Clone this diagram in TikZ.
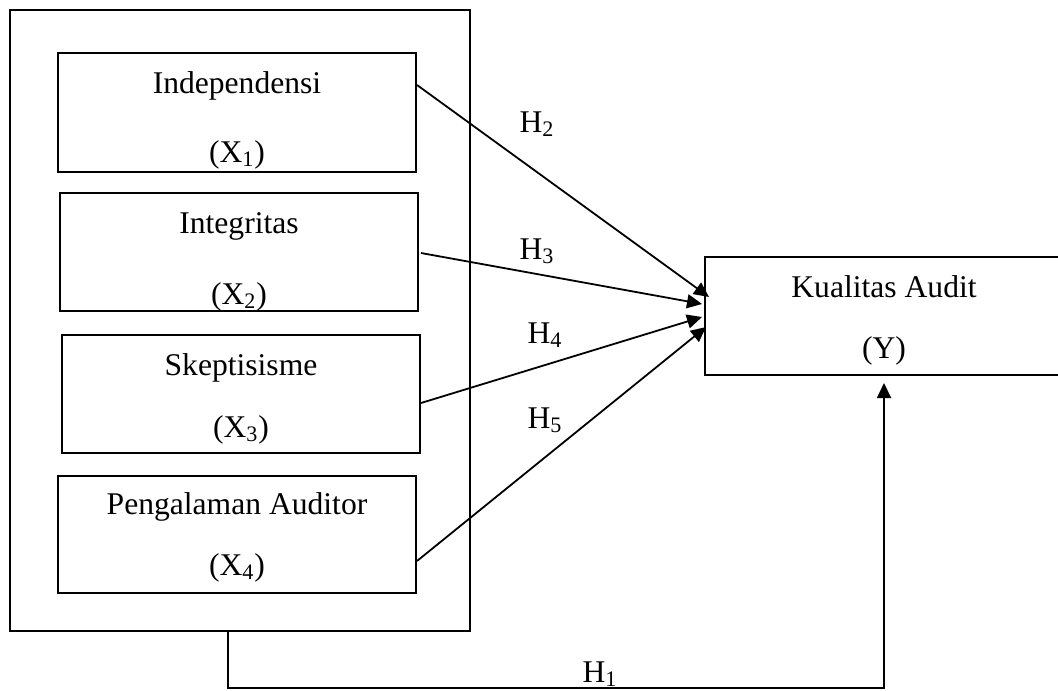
\documentclass[tikz,border=0pt]{standalone}
\usepackage{fontspec}
\setmainfont{Liberation Serif}
\usetikzlibrary{arrows.meta}
\begin{document}
\begin{tikzpicture}[x=0.5pt,y=-0.5pt,
  box/.style={draw=black,line width=1pt,rectangle,inner sep=0pt},
  lbl/.style={anchor=base,inner sep=0pt,font=\fontsize{15.8pt}{18pt}\selectfont},
  arr/.style={draw=black,line width=0.9pt,-{Triangle[length=7.5pt,width=7pt]}}]
\useasboundingbox[fill=white] (0,0) rectangle (1058,690);
% boxes
\node[box,minimum width=230pt,minimum height=310.5pt] (outer) at (240,320.5) {};
\node[box,minimum width=179pt,minimum height=59.5pt] (b1) at (237,112.5) {};
\node[box,minimum width=179pt,minimum height=59pt] (b2) at (239,252) {};
\node[box,minimum width=179pt,minimum height=59pt] (b3) at (241,394) {};
\node[box,minimum width=179pt,minimum height=58.5pt] (b4) at (237,534.5) {};
\node[box,minimum width=179pt,minimum height=59pt] (Y) at (884,316) {};
% texts
\node[lbl] (t1a) at (237,93) {Independensi};
\node[lbl] (t1b) at (237,162) {(X\textsubscript{1})};
\node[lbl] (t2a) at (239,233) {Integritas};
\node[lbl] (t2b) at (239,304) {(X\textsubscript{2})};
\node[lbl] (t3a) at (241,375) {Skeptisisme};
\node[lbl] (t3b) at (241,437) {(X\textsubscript{3})};
\node[lbl] (t4a) at (237,514) {Pengalaman Auditor};
\node[lbl] (t4b) at (237,575) {(X\textsubscript{4})};
\node[lbl] (tya) at (884,297) {Kualitas Audit};
\node[lbl] (tyb) at (884,358) {(Y)};
% connector ends
\coordinate (s1) at ([yshift=-16.5pt]b1.north east);
\coordinate (s3) at ([yshift=-4.5pt]b3.east);
\coordinate (s4) at ([yshift=-13.25pt]b4.east);
\coordinate (e1) at ([xshift=2.5pt,yshift=9.5pt]Y.west);
\coordinate (e2) at ([xshift=-1pt,yshift=6pt]Y.west);
\coordinate (e3) at ([xshift=-1pt,yshift=-0.5pt]Y.west);
\coordinate (e4) at ([xshift=1pt,yshift=-5.5pt]Y.west);
\draw[arr] (s1) -- (e1);
\draw[arr] ([xshift=1pt,yshift=-0.5pt]b2.east) -- (e2);
\draw[arr] (s3) -- (e3);
\draw[arr] (s4) -- (e4);
\draw[arr] ([xshift=-6pt]outer.south) -- ++(0,56) -| ([yshift=-3.5pt]Y.south);
% hypothesis labels
\node[lbl] (h2) at (537,132) {H\textsubscript{2}};
\node[lbl] (h3) at (537,259) {H\textsubscript{3}};
\node[lbl] (h4) at (545,343) {H\textsubscript{4}};
\node[lbl] (h5) at (545,428) {H\textsubscript{5}};
\node[lbl] (h1) at (600,682) {H\textsubscript{1}};
\end{tikzpicture}
\end{document}
